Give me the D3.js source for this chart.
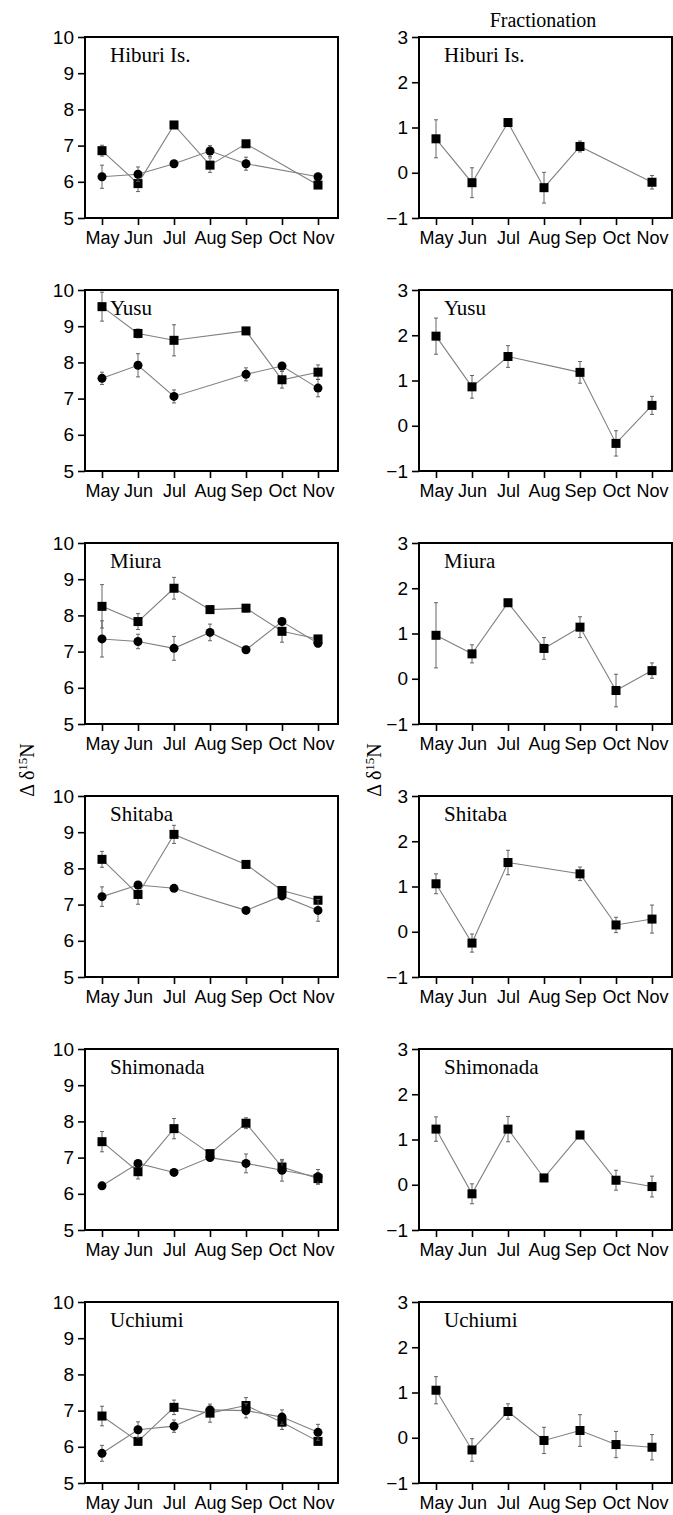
<!DOCTYPE html>
<html>
<head>
<meta charset="utf-8">
<script src="https://cdn.jsdelivr.net/npm/d3@7"></script>
<style>
  body { margin: 0; background: #fff; }
</style>
</head>
<body>
<svg id="chart" width="673" height="1515"></svg>
<script>
// data (null = no sample that month)
var months = ["May", "Jun", "Jul", "Aug", "Sep", "Oct", "Nov"]
var sites = ["Hiburi Is.", "Yusu", "Miura", "Shitaba", "Shimonada", "Uchiumi"]

// left column, square series
var sqMean = [
	[6.86, 5.95, 7.57, 6.46, 7.05, null, 5.91],
	[9.54, 8.80, 8.61, null, 8.87, 7.52, 7.73],
	[8.25, 7.83, 8.75, 8.16, 8.20, 7.56, 7.35],
	[8.25, 7.28, 8.94, null, 8.11, 7.39, 7.12],
	[7.44, 6.61, 7.80, 7.11, 7.95, 6.74, 6.42],
	[6.85, 6.15, 7.09, 6.93, 7.14, 6.68, 6.15]
]
var sqErr = [
	[0.15, 0.22, 0.05, 0.20, 0.07, null, 0.05],
	[0.40, 0.12, 0.43, null, 0.05, 0.23, 0.20],
	[0.60, 0.22, 0.30, 0.10, 0.10, 0.30, 0.08],
	[0.22, 0.27, 0.25, null, 0.10, 0.08, 0.05],
	[0.28, 0.20, 0.28, 0.07, 0.15, 0.17, 0.15],
	[0.27, 0.05, 0.20, 0.25, 0.22, 0.20, 0.05]
]
// left column, circle series
var ciMean = [
	[6.14, 6.21, 6.50, 6.85, 6.50, null, 6.14],
	[7.56, 7.92, 7.06, null, 7.67, 7.90, 7.29],
	[7.35, 7.28, 7.09, 7.53, 7.05, 7.83, 7.23],
	[7.22, 7.54, 7.45, null, 6.84, 7.24, 6.84],
	[6.22, 6.84, 6.59, 7.00, 6.84, 6.65, 6.47],
	[5.82, 6.47, 6.57, 7.02, 7.00, 6.82, 6.40]
]
var ciErr = [
	[0.32, 0.20, 0.05, 0.15, 0.18, null, 0.05],
	[0.17, 0.32, 0.18, null, 0.18, 0.05, 0.24],
	[0.50, 0.20, 0.33, 0.23, 0.05, 0.05, 0.10],
	[0.27, 0.05, 0.05, null, 0.05, 0.05, 0.30],
	[0.05, 0.05, 0.05, 0.05, 0.26, 0.30, 0.20],
	[0.22, 0.22, 0.17, 0.10, 0.20, 0.20, 0.22]
]
// right column, fractionation
var frMean = [
	[0.75, -0.22, 1.11, -0.33, 0.58, null, -0.21],
	[1.98, 0.86, 1.53, null, 1.18, -0.39, 0.45],
	[0.96, 0.55, 1.68, 0.67, 1.14, -0.26, 0.18],
	[1.06, -0.25, 1.53, null, 1.28, 0.15, 0.28],
	[1.23, -0.20, 1.23, 0.15, 1.10, 0.10, -0.04],
	[1.05, -0.27, 0.58, -0.06, 0.16, -0.15, -0.21]
]
var frErr = [
	[0.42, 0.33, 0.05, 0.34, 0.12, null, 0.15],
	[0.40, 0.25, 0.24, null, 0.24, 0.28, 0.20],
	[0.72, 0.20, 0.05, 0.24, 0.23, 0.36, 0.17],
	[0.22, 0.20, 0.27, null, 0.15, 0.17, 0.31],
	[0.27, 0.22, 0.28, 0.08, 0.08, 0.22, 0.23],
	[0.30, 0.25, 0.17, 0.29, 0.35, 0.29, 0.28]
]
var leftTicks = [5, 6, 7, 8, 9, 10]
var rightTicks = [-1, 0, 1, 2, 3]

const W = 253, H = 181
const COL_X = [85, 419]
const TOP = 37, ROW_STEP = 253
const SERIF = "'Liberation Serif', 'Times New Roman', serif"
const SANS = "'Liberation Sans', Arial, sans-serif"

var svg = d3.select("#chart")
svg.append("rect").attr("width", 673).attr("height", 1515).attr("fill", "#fff")

var x = d3.scalePoint().domain(months).range([17, W - 20])

function drawSeries(g, y, means, errs, shape) {
	var pts = months.map((m, i) => ({m: m, v: means[i], e: errs[i]})).filter(d => d.v != null)

	g.append("path")
		.datum(pts)
		.attr("fill", "none")
		.attr("stroke", "#808080")
		.attr("stroke-width", 1.1)
		.attr("d", d3.line().x(d => x(d.m)).y(d => y(d.v)))

	var eb = g.append("g").attr("stroke", "#555").attr("stroke-width", 0.9)
	pts.forEach(d => {
		var x0 = x(d.m)
		eb.append("line").attr("x1", x0).attr("x2", x0)
			.attr("y1", y(d.v - d.e)).attr("y2", y(d.v + d.e))
		eb.append("line").attr("x1", x0 - 2).attr("x2", x0 + 2)
			.attr("y1", y(d.v + d.e)).attr("y2", y(d.v + d.e))
		eb.append("line").attr("x1", x0 - 2).attr("x2", x0 + 2)
			.attr("y1", y(d.v - d.e)).attr("y2", y(d.v - d.e))
	})

	if (shape == "square") {
		g.selectAll(null).data(pts).enter()
			.append("rect")
			.attr("x", d => x(d.m) - 4.5)
			.attr("y", d => y(d.v) - 4.5)
			.attr("width", 9)
			.attr("height", 9)
			.attr("fill", "#000")
	} else {
		g.selectAll(null).data(pts).enter()
			.append("circle")
			.attr("cx", d => x(d.m))
			.attr("cy", d => y(d.v))
			.attr("r", 4.5)
			.attr("fill", "#000")
	}
}

function drawPanel(row, col) {
	var g = svg.append("g")
		.attr("transform", "translate(" + COL_X[col] + "," + (TOP + row * ROW_STEP) + ")")

	var ticks = col == 0 ? leftTicks : rightTicks
	var y = d3.scaleLinear().domain(d3.extent(ticks)).range([H, 0])

	var ya = g.append("g")
		.call(d3.axisLeft(y).tickValues(ticks).tickSize(7).tickPadding(4).tickSizeOuter(0).tickFormat(d3.format("d")))
	var xa = g.append("g")
		.attr("transform", "translate(0," + H + ")")
		.call(d3.axisBottom(x).tickSize(7).tickPadding(6).tickSizeOuter(0))
	;[ya, xa].forEach(a => {
		a.select(".domain").remove()
		a.selectAll(".tick line").attr("stroke", "#000").attr("stroke-width", 1.6)
		a.selectAll("text").attr("fill", "#000").style("font-family", SANS)
	})
	ya.selectAll("text").style("font-size", "19px")
	xa.selectAll("text").style("font-size", "18px")

	if (col == 0) {
		drawSeries(g, y, sqMean[row], sqErr[row], "square")
		drawSeries(g, y, ciMean[row], ciErr[row], "circle")
	} else {
		drawSeries(g, y, frMean[row], frErr[row], "square")
	}

	g.append("rect")
		.attr("width", W)
		.attr("height", H)
		.attr("fill", "none")
		.attr("stroke", "#000")
		.attr("stroke-width", 2)

	g.append("text")
		.attr("x", 25)
		.attr("y", 25)
		.style("font-family", SERIF)
		.style("font-size", "21px")
		.text(sites[row])
}

sites.forEach((s, r) => { drawPanel(r, 0); drawPanel(r, 1) })

// column heading
svg.append("text")
	.attr("x", 543)
	.attr("y", 27)
	.attr("text-anchor", "middle")
	.style("font-family", SERIF)
	.style("font-size", "20px")
	.text("Fractionation")

// y axis labels
;[34, 381].forEach(bx => {
	var t = svg.append("text")
		.attr("transform", "translate(" + bx + ",770) rotate(-90)")
		.attr("text-anchor", "middle")
		.style("font-family", SERIF)
		.style("font-size", "20px")
	t.append("tspan").text("\u0394 \u03b4")
	t.append("tspan").attr("dy", -7).style("font-size", "13px").text("15")
	t.append("tspan").attr("dy", 7).text("N")
})
</script>
</body>
</html>
